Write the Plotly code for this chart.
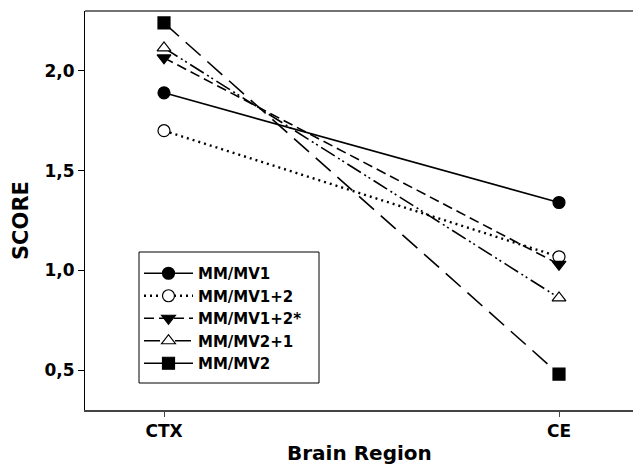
import plotly.graph_objects as go

regions = ["CTX", "CE"]
series_names = ["MM/MV1", "MM/MV1+2", "MM/MV1+2*", "MM/MV2+1", "MM/MV2"]
mv1 = [1.89, 1.34]
mv1_2 = [1.70, 1.068]
mv1_2s = [2.065, 1.03]
mv2_1 = [2.115, 0.862]
mv2 = [2.24, 0.48]
y_tick_vals = [0.5, 1.0, 1.5, 2.0]
y_tick_text = ["0,5", "1,0", "1,5", "2,0"]

values = [mv1, mv1_2, mv1_2s, mv2_1, mv2]
styles = [
    dict(dash="solid", symbol="circle", fill="black", width=1.6),
    dict(dash="2px,4px", symbol="circle", fill="white", width=2.4),
    dict(dash="10px,5px", symbol="triangle-down", fill="black", width=1.6),
    dict(dash="16px,4px,2px,3px,2px,4px", symbol="triangle-up", fill="white", width=1.6),
    dict(dash="20px,9px", symbol="square", fill="black", width=1.6),
]

fig = go.Figure()
for name, vals, st in zip(series_names, values, styles):
    fig.add_trace(go.Scatter(
        x=regions, y=vals, name=name, mode="lines+markers",
        line=dict(color="black", width=st["width"], dash=st["dash"]),
        marker=dict(symbol=st["symbol"], size=12, color=st["fill"],
                    line=dict(color="black", width=1.2)),
    ))

W = 633
L, R, T, B = 85, W, 11, 410
pw, ph = R - L, B - T
font_family = "DejaVu Sans, sans-serif"
fig.update_layout(
    width=W, height=465,
    margin=dict(l=L, r=0, t=T, b=465 - B),
    paper_bgcolor="white", plot_bgcolor="white",
    font=dict(family=font_family, size=17, color="black", weight="bold"),
    showlegend=True,
    legend=dict(x=(139 - L) / pw, y=(B - 257) / ph, xanchor="left", yanchor="top",
                borderwidth=0, bgcolor="rgba(0,0,0,0)",
                font=dict(size=15, family=font_family, weight="bold"),
                tracegroupgap=0, itemwidth=49),
    shapes=[
        dict(type="rect", xref="paper", yref="paper", layer="below",
             x0=(139 - L) / pw, x1=(319 - L) / pw,
             y0=(B - 383) / ph, y1=(B - 252) / ph,
             line=dict(color="black", width=1), fillcolor="white"),
        dict(type="line", xref="paper", yref="paper", x0=0, x1=1.02, y0=1, y1=1,
             line=dict(color="#444", width=1.5)),
    ],
    xaxis=dict(type="category", range=[-79 / 395, 1 + (W - 559) / 395], showgrid=False, zeroline=False,
               showline=True, linecolor="#444", linewidth=1.5, mirror=False,
               ticks="outside", ticklen=5, tickcolor="#444", tickwidth=1,
               tickfont=dict(size=17, weight="bold")),
    yaxis=dict(range=[0.3, 2.3], showgrid=False, zeroline=False,
               showline=True, linecolor="black", linewidth=1, mirror=False,
               ticks="outside", ticklen=6, tickcolor="black",
               tickvals=y_tick_vals, ticktext=y_tick_text,
               tickfont=dict(size=17, weight="bold")),
    annotations=[
        dict(text="Brain Region", xref="paper", yref="paper", x=(359 - L) / pw, y=(B - 453) / ph,
             xanchor="center", yanchor="middle", showarrow=False,
             font=dict(size=20, weight="bold")),
        dict(text="SCORE", xref="paper", yref="paper", x=(21 - L) / pw, y=(B - 221) / ph,
             xanchor="center", yanchor="middle", textangle=-90, showarrow=False,
             font=dict(size=21, weight="bold")),
    ],
)

fig.write_html("out.html", config={"displayModeBar": False},
               post_script="document.body.style.margin='0';document.body.style.overflow='hidden';"
                           "document.documentElement.style.overflow='hidden';")
